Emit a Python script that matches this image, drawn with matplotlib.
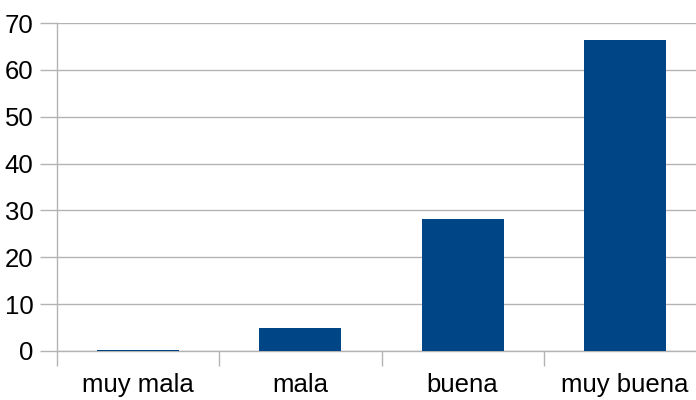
import numpy as np
import matplotlib.pyplot as plt

categories = ["muy mala", "mala", "buena", "muy buena"]
values = [0.3, 4.9, 28.2, 66.4]
yticks = [0, 10, 20, 30, 40, 50, 60, 70]

plt.rcParams['font.family'] = ['Liberation Sans', 'DejaVu Sans']

fig = plt.figure(figsize=(6.96, 4.0), dpi=100)
# plot area runs slightly past the right edge of the picture
ax = fig.add_axes([57 / 696, 49 / 400, 649 / 696, 328 / 400])

x = np.arange(len(categories))
ax.bar(x, values, width=0.505, color="#004586", zorder=3)

ax.set_xlim(-0.5, len(categories) - 0.5)
ax.set_ylim(0, 70)
ax.set_yticks(yticks)
ax.yaxis.grid(True, color="#b3b3b3", linewidth=1)
ax.set_axisbelow(True)

for s in ["top", "right"]:
    ax.spines[s].set_visible(False)
for s in ["left", "bottom"]:
    ax.spines[s].set_color("#b3b3b3")
    ax.spines[s].set_linewidth(1)

# category labels centred, tick marks on the boundaries
ax.set_xticks(x)
ax.set_xticklabels(categories)
ax.tick_params(axis="x", length=0, pad=16, labelsize=18.5)
ax.set_xticks(np.arange(len(categories) + 1) - 0.5, minor=True)
ax.tick_params(axis="x", which="minor", length=11, color="#b3b3b3", width=1)
ax.tick_params(axis="y", length=12, color="#b3b3b3", width=1, pad=5, labelsize=18.5)

fig.savefig("out.png", dpi=100)
